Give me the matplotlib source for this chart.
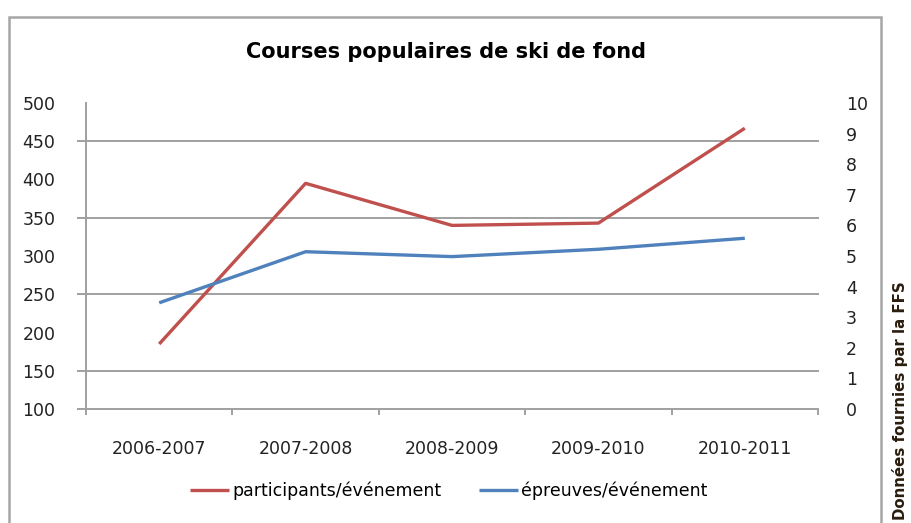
import numpy as np
import matplotlib
matplotlib.use('Agg')
import matplotlib.pyplot as plt
from matplotlib.patches import Rectangle


saisons = ['2006-2007', '2007-2008', '2008-2009', '2009-2010', '2010-2011']
participants = [185, 395, 340, 343, 467]
epreuves = [3.47, 5.14, 4.98, 5.22, 5.58]

gauche_ticks = np.arange(100, 501, 50)
grille = [100, 150, 250, 350, 450]
droite_ticks = np.arange(0, 11, 1)

rouge = '#C0504D'
bleu = '#4F81BD'
gris = '#a0a0a0'

W, H = 912, 523
fig = plt.figure(figsize=(W/100, H/100), dpi=100)

# cadre du graphique
fig.patches.append(Rectangle((9/W, -0.1), (881-9)/W, 1.1 - 17/H,
                             transform=fig.transFigure, fill=False,
                             edgecolor='#a6a6a6', linewidth=1.8))

x0, x1 = 86, 818
y0, y1 = 103, 409
ax = fig.add_axes([x0/W, 1 - y1/H, (x1-x0)/W, (y1-y0)/H])
x = np.arange(len(saisons))

ax.set_xlim(-0.5, len(saisons) - 0.5)
ax.set_ylim(100, 500)

for g in grille:
    ax.plot([-8/(x1-x0), 1], [g, g], color=gris, lw=1.4,
            transform=ax.get_yaxis_transform(), clip_on=False, zorder=1)

ax.plot(x, participants, color=rouge, lw=2.4, zorder=3,
        label='participants/événement', solid_capstyle='butt')

ax2 = ax.twinx()
ax2.set_ylim(0, 10)
ax2.plot(x, epreuves, color=bleu, lw=2.4, zorder=3,
         label='épreuves/événement', solid_capstyle='butt')

for a in (ax, ax2):
    for s in a.spines.values():
        s.set_visible(False)
    a.patch.set_visible(False)
ax.spines['left'].set_visible(True)
ax.spines['left'].set_color(gris)
ax.spines['left'].set_linewidth(1.4)

ax.set_yticks(gauche_ticks)
ax.tick_params(axis='y', length=0, pad=22, labelsize=12.5, labelcolor='#222222')
ax2.set_yticks(droite_ticks)
ax2.tick_params(axis='y', length=0, pad=20, labelsize=12.5, labelcolor='#222222')

ax.set_xticks(x)
ax.set_xticklabels(saisons)
ax.set_xticks(np.arange(-0.5, len(saisons)), minor=True)
ax.tick_params(axis='x', which='major', length=0, pad=22, labelsize=12.5,
               labelcolor='#222222')
ax.tick_params(axis='x', which='minor', length=4, width=1.4, color=gris,
               direction='out')

fig.text(446/W, 1 - 52/H, 'Courses populaires de ski de fond',
         ha='center', va='center', fontsize=15, fontweight='bold')

h1, l1 = ax.get_legend_handles_labels()
h2, l2 = ax2.get_legend_handles_labels()
fig.legend(h1 + h2, l1 + l2, loc='center', bbox_to_anchor=(449/W, 1 - 491/H),
           ncol=2, frameon=False, fontsize=12.5, handlelength=2.2,
           handletextpad=0.2, columnspacing=2.2)

fig.text(900/W, 3/H, 'Données fournies par la FFS', rotation=90,
         ha='center', va='bottom', fontsize=10.8, fontweight='bold',
         color='#2b1d0e')

fig.savefig('out.png', dpi=100)
